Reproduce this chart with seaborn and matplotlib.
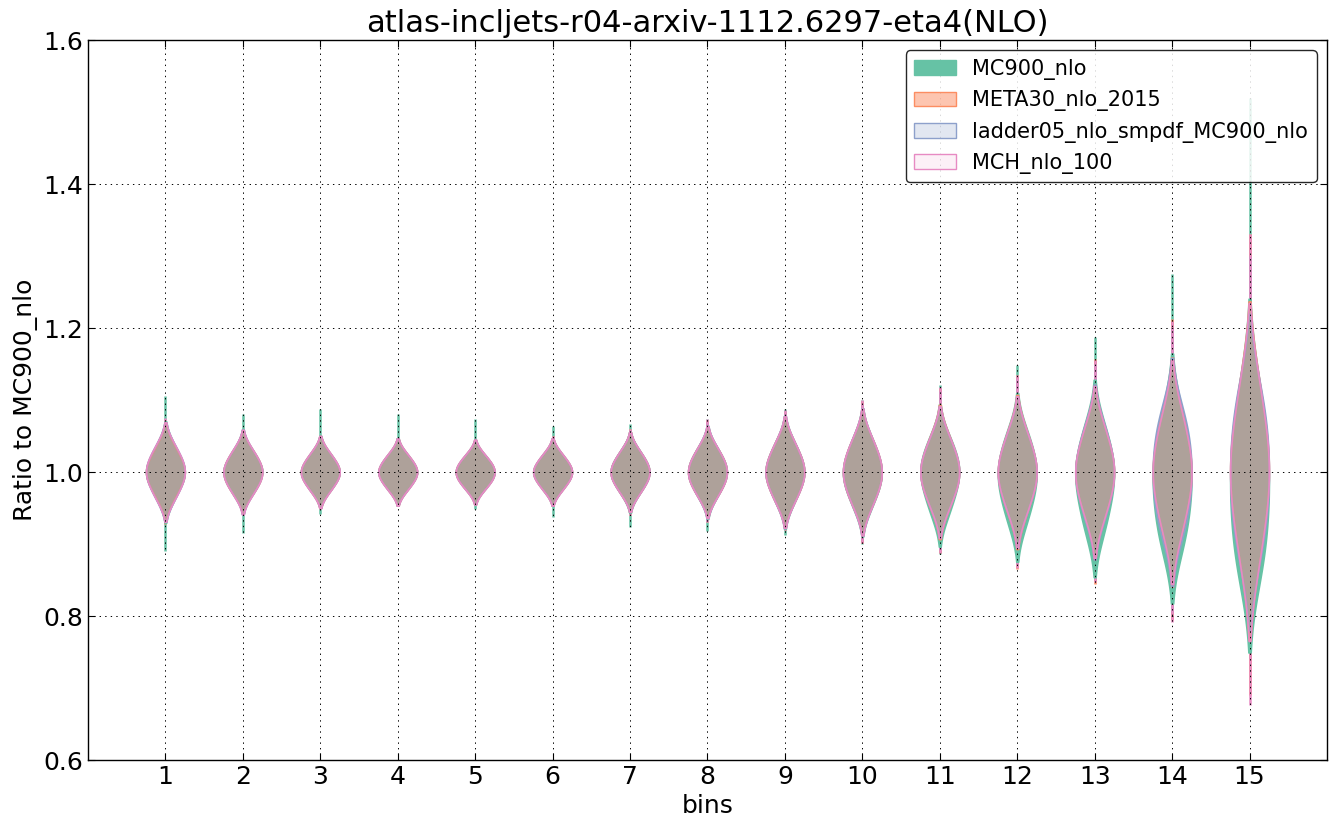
import matplotlib
matplotlib.use("Agg")
import pandas as pd
import matplotlib.pyplot as plt
import seaborn as sns
from matplotlib.colors import to_rgba
from matplotlib.patches import Patch

# bins and PDF sets
bins = list(range(1, 16))
pdf_names = ["MC900_nlo", "META30_nlo_2015", "ladder05_nlo_smpdf_MC900_nlo", "MCH_nlo_100"]
colors = ["#66c2a5", "#fc8d62", "#8da0cb", "#e78ac3"]
fill_alpha = [1.0, 0.5, 0.25, 0.12]

# ratio to MC900_nlo, body of each distribution (quantile points per bin)
mc900_body = [
    [0.959, 0.975, 0.986, 0.993, 1.000, 1.007, 1.014, 1.025, 1.041],
    [0.966, 0.981, 0.990, 0.996, 1.001, 1.006, 1.012, 1.021, 1.035],
    [0.971, 0.984, 0.991, 0.996, 1.000, 1.004, 1.009, 1.017, 1.030],
    [0.973, 0.985, 0.992, 0.996, 1.000, 1.004, 1.009, 1.016, 1.028],
    [0.974, 0.986, 0.992, 0.996, 1.000, 1.004, 1.008, 1.015, 1.026],
    [0.973, 0.985, 0.991, 0.996, 1.000, 1.004, 1.009, 1.016, 1.027],
    [0.967, 0.980, 0.988, 0.994, 1.000, 1.006, 1.012, 1.020, 1.032],
    [0.962, 0.977, 0.986, 0.993, 1.000, 1.007, 1.014, 1.023, 1.037],
    [0.954, 0.972, 0.983, 0.992, 1.000, 1.008, 1.017, 1.028, 1.045],
    [0.948, 0.967, 0.980, 0.990, 0.999, 1.009, 1.019, 1.032, 1.051],
    [0.938, 0.960, 0.975, 0.987, 0.998, 1.009, 1.019, 1.032, 1.052],
    [0.925, 0.950, 0.968, 0.982, 0.995, 1.008, 1.021, 1.037, 1.060],
    [0.912, 0.940, 0.962, 0.979, 0.994, 1.009, 1.024, 1.042, 1.070],
    [0.892, 0.920, 0.946, 0.969, 0.990, 1.010, 1.030, 1.054, 1.090],
    [0.855, 0.890, 0.924, 0.957, 0.988, 1.016, 1.044, 1.080, 1.135],
]
meta_body = [
    [0.961, 0.976, 0.986, 0.993, 1.000, 1.007, 1.014, 1.024, 1.039],
    [0.967, 0.979, 0.987, 0.994, 1.000, 1.006, 1.013, 1.021, 1.033],
    [0.971, 0.982, 0.989, 0.995, 1.000, 1.005, 1.011, 1.018, 1.029],
    [0.973, 0.983, 0.990, 0.995, 1.000, 1.005, 1.010, 1.017, 1.027],
    [0.974, 0.984, 0.990, 0.995, 1.000, 1.005, 1.010, 1.016, 1.026],
    [0.973, 0.983, 0.990, 0.995, 1.000, 1.005, 1.010, 1.017, 1.027],
    [0.968, 0.980, 0.988, 0.994, 1.000, 1.006, 1.012, 1.020, 1.032],
    [0.964, 0.977, 0.986, 0.993, 1.000, 1.007, 1.014, 1.023, 1.036],
    [0.956, 0.972, 0.983, 0.992, 1.000, 1.008, 1.017, 1.028, 1.044],
    [0.950, 0.968, 0.981, 0.990, 1.000, 1.010, 1.019, 1.032, 1.050],
    [0.946, 0.966, 0.980, 0.990, 1.000, 1.010, 1.020, 1.034, 1.054],
    [0.938, 0.961, 0.977, 0.989, 1.000, 1.011, 1.023, 1.039, 1.062],
    [0.930, 0.956, 0.974, 0.987, 1.000, 1.013, 1.026, 1.044, 1.070],
    [0.908, 0.942, 0.965, 0.983, 1.000, 1.017, 1.035, 1.058, 1.092],
    [0.866, 0.916, 0.950, 0.976, 1.002, 1.027, 1.053, 1.087, 1.138],
]
ladder_body = [
    [0.960, 0.975, 0.985, 0.993, 1.000, 1.008, 1.015, 1.025, 1.040],
    [0.966, 0.979, 0.987, 0.994, 1.000, 1.006, 1.013, 1.021, 1.034],
    [0.971, 0.982, 0.989, 0.995, 1.000, 1.005, 1.011, 1.018, 1.029],
    [0.973, 0.983, 0.990, 0.995, 1.000, 1.005, 1.010, 1.017, 1.027],
    [0.974, 0.984, 0.990, 0.995, 1.000, 1.005, 1.010, 1.016, 1.026],
    [0.973, 0.983, 0.990, 0.995, 1.000, 1.005, 1.010, 1.017, 1.027],
    [0.968, 0.980, 0.988, 0.994, 1.000, 1.006, 1.012, 1.020, 1.032],
    [0.963, 0.977, 0.986, 0.993, 1.000, 1.007, 1.014, 1.023, 1.037],
    [0.955, 0.972, 0.983, 0.992, 1.000, 1.008, 1.017, 1.028, 1.045],
    [0.949, 0.968, 0.981, 0.990, 1.000, 1.010, 1.019, 1.032, 1.051],
    [0.947, 0.967, 0.980, 0.990, 1.000, 1.010, 1.020, 1.033, 1.053],
    [0.939, 0.962, 0.977, 0.989, 1.000, 1.011, 1.023, 1.038, 1.061],
    [0.930, 0.955, 0.973, 0.987, 1.000, 1.013, 1.027, 1.045, 1.070],
    [0.910, 0.938, 0.960, 0.980, 1.000, 1.020, 1.040, 1.062, 1.090],
    [0.875, 0.915, 0.945, 0.972, 1.000, 1.028, 1.055, 1.085, 1.125],
]
mch_body = [
    [0.960, 0.975, 0.985, 0.993, 1.000, 1.008, 1.015, 1.025, 1.040],
    [0.966, 0.979, 0.987, 0.994, 1.000, 1.006, 1.013, 1.021, 1.034],
    [0.971, 0.982, 0.989, 0.995, 1.000, 1.005, 1.011, 1.018, 1.029],
    [0.973, 0.983, 0.990, 0.995, 1.000, 1.005, 1.010, 1.017, 1.027],
    [0.974, 0.984, 0.990, 0.995, 1.000, 1.005, 1.010, 1.016, 1.026],
    [0.973, 0.983, 0.990, 0.995, 1.000, 1.005, 1.010, 1.017, 1.027],
    [0.968, 0.980, 0.988, 0.994, 1.000, 1.006, 1.012, 1.020, 1.032],
    [0.963, 0.977, 0.986, 0.993, 1.000, 1.007, 1.014, 1.023, 1.037],
    [0.955, 0.972, 0.983, 0.992, 1.000, 1.008, 1.017, 1.028, 1.045],
    [0.949, 0.968, 0.981, 0.990, 1.000, 1.010, 1.019, 1.032, 1.051],
    [0.947, 0.967, 0.980, 0.990, 1.000, 1.010, 1.020, 1.033, 1.053],
    [0.939, 0.962, 0.977, 0.989, 1.000, 1.011, 1.023, 1.038, 1.061],
    [0.931, 0.957, 0.974, 0.987, 1.000, 1.013, 1.026, 1.043, 1.069],
    [0.910, 0.944, 0.966, 0.983, 1.000, 1.017, 1.034, 1.056, 1.090],
    [0.864, 0.915, 0.949, 0.975, 1.000, 1.025, 1.051, 1.085, 1.136],
]

# extreme replicas (thin tails of each violin)
mc900_min = [0.890, 0.915, 0.942, 0.953, 0.948, 0.937, 0.923, 0.918, 0.912, 0.900, 0.886, 0.868, 0.848, 0.800, 0.740]
mc900_max = [1.105, 1.080, 1.087, 1.080, 1.073, 1.064, 1.067, 1.073, 1.087, 1.100, 1.121, 1.148, 1.188, 1.275, 1.520]
meta_min = [0.928, 0.946, 0.956, 0.959, 0.960, 0.955, 0.940, 0.930, 0.920, 0.902, 0.888, 0.866, 0.845, 0.795, 0.690]
meta_max = [1.072, 1.058, 1.050, 1.046, 1.045, 1.050, 1.060, 1.072, 1.084, 1.098, 1.117, 1.135, 1.157, 1.212, 1.330]
ladder_min = [0.932, 0.948, 0.957, 0.960, 0.961, 0.957, 0.942, 0.932, 0.922, 0.905, 0.892, 0.872, 0.852, 0.805, 0.750]
ladder_max = [1.070, 1.056, 1.048, 1.044, 1.044, 1.048, 1.058, 1.070, 1.082, 1.095, 1.112, 1.130, 1.150, 1.200, 1.300]
mch_min = [0.930, 0.946, 0.956, 0.958, 0.960, 0.955, 0.940, 0.930, 0.920, 0.901, 0.888, 0.867, 0.847, 0.792, 0.677]
mch_max = [1.075, 1.060, 1.050, 1.045, 1.045, 1.050, 1.060, 1.074, 1.086, 1.100, 1.118, 1.135, 1.155, 1.210, 1.330]

bodies = [mc900_body, meta_body, ladder_body, mch_body]
mins = [mc900_min, meta_min, ladder_min, mch_min]
maxs = [mc900_max, meta_max, ladder_max, mch_max]

plt.rcParams.update({
    "font.family": "DejaVu Sans",
    "xtick.direction": "in",
    "ytick.direction": "in",
    "xtick.top": True,
    "ytick.right": True,
    "xtick.major.size": 5,
    "ytick.major.size": 5,
    "axes.linewidth": 1.0,
    "lines.scale_dashes": False,
})

fig, ax = plt.subplots(figsize=(13.37, 8.30), dpi=100)
fig.subplots_adjust(left=0.0658, right=0.9925, top=0.9518, bottom=0.0843)

for name, color, alpha, body, lo, hi in zip(pdf_names, colors, fill_alpha, bodies, mins, maxs):
    rows = []
    for b, vals in zip(bins, body):
        for v in vals:
            rows.append({"bin": b, "ratio": v})
    df = pd.DataFrame(rows)

    n_before = len(ax.collections)
    sns.violinplot(data=df, x="bin", y="ratio", native_scale=True, color=color,
                   saturation=1, inner=None, cut=1.8, density_norm="width",
                   width=0.5, linewidth=1.2, linecolor=color, ax=ax)
    for coll in ax.collections[n_before:]:
        coll.set_facecolor(to_rgba(color, alpha))
        coll.set_zorder(1)
    # thin tails out to the extreme replicas
    ax.vlines(bins, lo, hi, color=color, linewidth=1.8, zorder=0.5)

ax.set_xlim(0, 16)
ax.set_ylim(0.6, 1.6)
ax.set_xticks(bins)
ax.set_yticks([0.6, 0.8, 1.0, 1.2, 1.4, 1.6])
ax.set_yticklabels(["0.6", "0.8", "1.0", "1.2", "1.4", "1.6"])
ax.tick_params(labelsize=18)
ax.grid(True, linestyle=(0, (1, 3)), color="k", linewidth=0.7)
ax.set_axisbelow(False)

ax.set_xlabel("bins", fontsize=18)
ax.set_ylabel("Ratio to MC900_nlo", fontsize=18)
ax.set_title("atlas-incljets-r04-arxiv-1112.6297-eta4(NLO)", fontsize=22)

handles = [Patch(facecolor=to_rgba(c, a), edgecolor=c, label=n)
           for n, c, a in zip(pdf_names, colors, fill_alpha)]
leg = ax.legend(handles=handles, loc="upper right", fontsize=15, framealpha=0.85,
                fancybox=True, edgecolor="black")
leg.get_frame().set_linewidth(1.0)

plt.savefig("out.png", dpi=100)
